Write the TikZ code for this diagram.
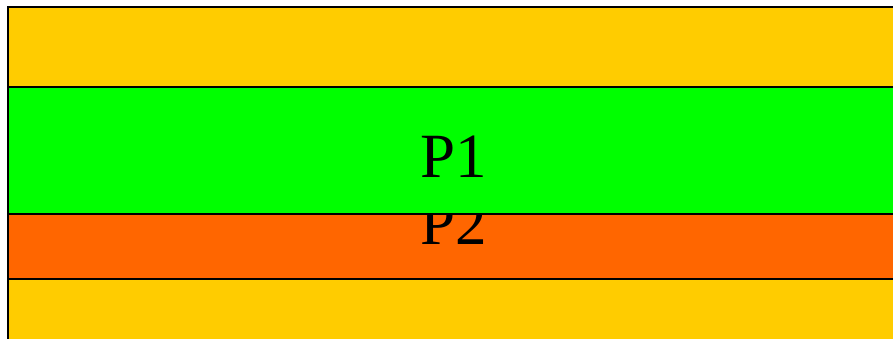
\documentclass[tikz,border=0pt]{standalone}
\usepackage{fontspec}
\setmainfont{Liberation Serif}
\usepackage{xcolor}
\usetikzlibrary{positioning}
\definecolor{bandyellow}{HTML}{FFCC00}
\definecolor{bandgreen}{HTML}{00FF00}
\definecolor{bandorange}{HTML}{FF6600}
\tikzset{
  band/.style={draw=black, line width=1.4pt, rectangle, inner sep=0pt, minimum width=892pt,
    font=\fontsize{63}{68}\selectfont, text height=55pt, text depth=0pt},
  outerbox/.style={band, fill=bandyellow, minimum height=339pt},
  pone/.style={band, fill=bandgreen, minimum height=127pt},
  ptwo/.style={band, fill=bandorange, minimum height=125pt},
}
\begin{document}
\begin{tikzpicture}[x=1pt, y=-1pt]
\useasboundingbox (0,0) rectangle (893,339);
\node[outerbox] (outer) at (454,176.5) {};
\node[ptwo] (p2) at (454,216.5) {P2};
\node[pone] (p1) at (454,150.5) {P1};
\end{tikzpicture}
\end{document}
